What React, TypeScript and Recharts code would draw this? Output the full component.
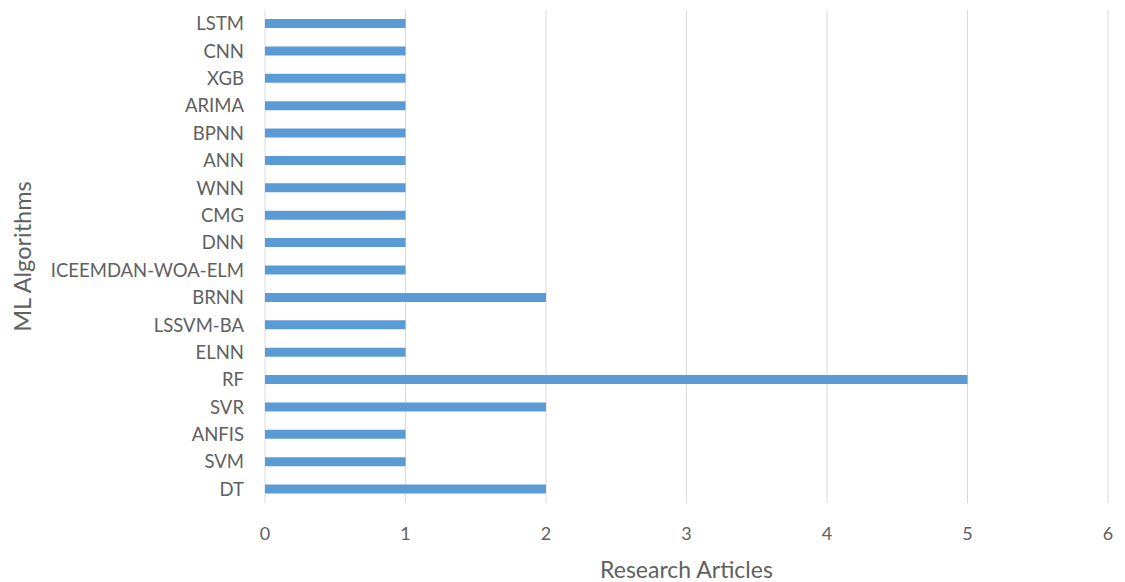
import React from 'react';
import { BarChart, Bar, XAxis, YAxis, CartesianGrid, Label } from 'recharts';

const algorithms = ['LSTM', 'CNN', 'XGB', 'ARIMA', 'BPNN', 'ANN', 'WNN', 'CMG', 'DNN', 'ICEEMDAN-WOA-ELM', 'BRNN', 'LSSVM-BA', 'ELNN', 'RF', 'SVR', 'ANFIS', 'SVM', 'DT'];
const articles = [1, 1, 1, 1, 1, 1, 1, 1, 1, 1, 2, 1, 1, 5, 2, 1, 1, 2];
const xTicks = [0, 1, 2, 3, 4, 5, 6];

const data = algorithms.map((name, i) => ({ name, value: articles[i] }));

const FONT = 'Lato, "Open Sans", sans-serif';
const TEXT = '#606060';

export default function App() {
  return (
    <div style={{ position: 'absolute', left: 0, top: 0, width: 1125, height: 582, background: '#fff' }}>
      <BarChart
        width={1125}
        height={582}
        data={data}
        layout="vertical"
        margin={{ top: 10, right: 17, bottom: 0, left: 0 }}
        barCategoryGap={0}
      >
        <CartesianGrid horizontal={false} stroke="#d9d9d9" />
        <XAxis
          type="number"
          domain={[0, 6]}
          ticks={xTicks}
          axisLine={false}
          tickLine={false}
          tickSize={0}
          tickMargin={24}
          height={79}
          tick={{ fill: TEXT, fontSize: 18, fontFamily: FONT }}
        >
          <Label
            content={({ viewBox }: any) => (
              <text
                x={viewBox.x + viewBox.width / 2}
                y={578}
                textAnchor="middle"
                fill={TEXT}
                fontSize={23}
                fontFamily={FONT}
              >
                Research Articles
              </text>
            )}
          />
        </XAxis>
        <YAxis
          type="category"
          dataKey="name"
          width={265}
          axisLine={false}
          tickLine={false}
          tickSize={0}
          tickMargin={21}
          interval={0}
          tick={{ fill: TEXT, fontSize: 18.5, fontFamily: FONT }}
        >
          <Label
            content={({ viewBox }: any) => (
              <text
                x={31}
                y={viewBox.y + viewBox.height / 2}
                textAnchor="middle"
                fill={TEXT}
                fontSize={23.5}
                fontFamily={FONT}
                transform={`rotate(-90, 31, ${viewBox.y + viewBox.height / 2})`}
              >
                ML Algorithms
              </text>
            )}
          />
        </YAxis>
        <Bar dataKey="value" fill="#5b9bd5" barSize={9} isAnimationActive={false} />
      </BarChart>
    </div>
  );
}
